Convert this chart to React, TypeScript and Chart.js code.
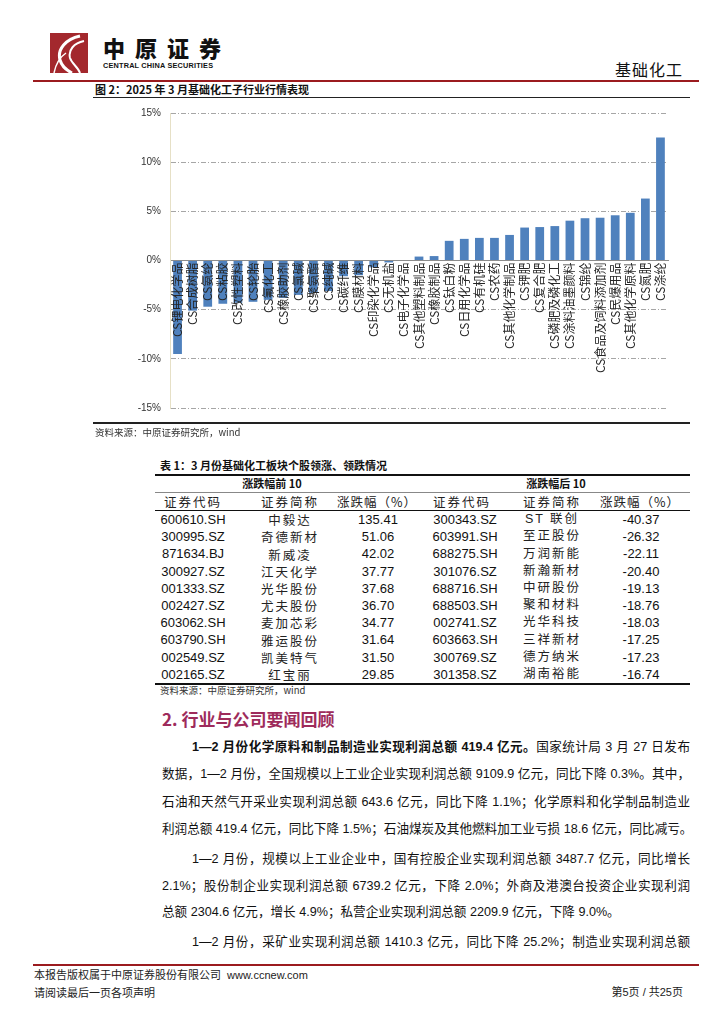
import React, { useEffect, useRef } from 'react';
import { Chart, registerables } from 'chart.js';

Chart.register(...registerables);

const categories = ['CS锂电化学品', 'CS合成树脂', 'CS氨纶', 'CS粘胶', 'CS改性塑料', 'CS轮胎', 'CS氟化工', 'CS橡胶助剂', 'CS氯碱', 'CS聚氨酯', 'CS纯碱', 'CS碳纤维', 'CS膜材料', 'CS印染化学品', 'CS无机盐', 'CS电子化学品', 'CS其他塑料制品', 'CS橡胶制品', 'CS钛白粉', 'CS日用化学品', 'CS有机硅', 'CS农药', 'CS其他化学制品', 'CS钾肥', 'CS复合肥', 'CS磷肥及磷化工', 'CS涂料油墨颜料', 'CS锦纶', 'CS食品及饲料添加剂', 'CS民爆用品', 'CS其他化学原料', 'CS氮肥', 'CS涤纶'];
const changes = [-9.5, -5.1, -4.7, -4.4, -4.3, -4.2, -4.0, -3.8, -3.5, -3.3, -3.1, -1.6, -1.5, -0.7, -0.2, -0.05, 0.4, 0.45, 2.0, 2.2, 2.3, 2.3, 2.6, 3.35, 3.4, 3.5, 4.05, 4.3, 4.35, 4.6, 4.85, 6.3, 12.5];
const yMin = -15;
const yMax = 15;
const yStep = 5;

const topCodes = ['600610.SH', '300995.SZ', '871634.BJ', '300927.SZ', '001333.SZ', '002427.SZ', '603062.SH', '603790.SH', '002549.SZ', '002165.SZ'];
const topNames = ['中毅达', '奇德新材', '新威凌', '江天化学', '光华股份', '尤夫股份', '麦加芯彩', '雅运股份', '凯美特气', '红宝丽'];
const topPct = ['135.41', '51.06', '42.02', '37.77', '37.68', '36.70', '34.77', '31.64', '31.50', '29.85'];
const botCodes = ['300343.SZ', '603991.SH', '688275.SH', '301076.SZ', '688716.SH', '688503.SH', '002741.SZ', '603663.SH', '300769.SZ', '301358.SZ'];
const botNames = ['ST 联创', '至正股份', '万润新能', '新瀚新材', '中研股份', '聚和材料', '光华科技', '三祥新材', '德方纳米', '湖南裕能'];
const botPct = ['-40.37', '-26.32', '-22.11', '-20.40', '-19.13', '-18.76', '-18.03', '-17.25', '-17.23', '-16.74'];

const CJK = '"Noto Sans CJK SC", "Noto Sans", sans-serif';
const MIX = '"Liberation Sans", Arial, "Noto Sans CJK SC", sans-serif';

type TP = { x: number; y: number; size: number; children?: React.ReactNode; bold?: boolean; color?: string; align?: 'left' | 'center' | 'right'; w?: number; family?: string; weight?: number; ls?: number };
const T = ({ x, y, size, children, bold, color = '#111', align = 'left', w = 300, family = MIX, weight, ls }: TP) => {
  const left = align === 'center' ? x - w / 2 : align === 'right' ? x - w : x;
  return (
    <div style={{ position: 'absolute', left, top: y - size * 0.62, width: w, textAlign: align, fontSize: size, lineHeight: `${size * 1.24}px`, whiteSpace: 'nowrap', fontWeight: weight ?? (bold ? 700 : 400), color, fontFamily: family, letterSpacing: ls }}>
      {children}
    </div>
  );
};

const HLine = ({ x1, x2, y, h = 1, color = '#000' }: { x1: number; x2: number; y: number; h?: number; color?: string }) => (
  <div style={{ position: 'absolute', left: x1, top: y, width: x2 - x1, height: h, background: color }} />
);

const PLine = ({ x, y, w, children, justify = true }: { x: number; y: number; w: number; children: React.ReactNode; justify?: boolean }) => (
  <div style={{ position: 'absolute', left: x, top: y - 8, width: w, fontSize: 12.6, lineHeight: '16px', whiteSpace: 'nowrap', textAlign: justify ? 'justify' : 'left', textAlignLast: justify ? 'justify' : 'left', fontFamily: MIX, color: '#111' }}>
    {children}
  </div>
);

function BarChart() {
  const ref = useRef<HTMLCanvasElement | null>(null);
  useEffect(() => {
    if (!ref.current) return;
    const chart = new Chart(ref.current, {
      type: 'bar',
      data: {
        labels: categories,
        datasets: [{ data: changes, backgroundColor: '#4F81BD', barPercentage: 0.58, categoryPercentage: 1.0 }],
      },
      options: {
        animation: false,
        responsive: false,
        maintainAspectRatio: false,
        plugins: { legend: { display: false }, tooltip: { enabled: false } },
        layout: { padding: { top: 14, right: 22, bottom: 13, left: 0 } },
        scales: {
          x: {
            position: { y: 0 } as any,
            grid: { display: false, drawTicks: false },
            border: { display: true, color: '#8C8C8C', width: 1 },
            ticks: {
              autoSkip: false,
              minRotation: 90,
              maxRotation: 90,
              padding: 2,
              color: '#262626',
              font: { size: 12, family: CJK },
              z: 1,
            } as any,
          },
          y: {
            min: yMin,
            max: yMax,
            afterFit: (s: any) => { s.width = 77; },
            ticks: { stepSize: yStep, callback: (v: any) => `${v}%`, padding: 9, color: '#333', font: { size: 10, family: '"Liberation Sans", Arial, sans-serif' } },
            grid: { color: '#A6A6A6', drawTicks: false, lineWidth: 1 },
            border: { color: '#E6E0C6', width: 1, dash: [5, 2, 1, 2] },
          },
        },
      },
    });
    return () => chart.destroy();
  }, []);
  return <canvas ref={ref} width={597} height={325} style={{ position: 'absolute', left: 93, top: 98, width: 597, height: 325 }} />;
}

export default function App() {
  const rowY = (i: number) => 520 + i * 17.2;
  return (
    <div style={{ position: 'absolute', left: 0, top: 0, width: 724, height: 1024, background: '#fff', overflow: 'hidden' }}>
      {/* Header */}
      <svg style={{ position: 'absolute', left: 50, top: 33 }} width={38} height={40} viewBox="0 0 38 40">
        <rect x={0} y={0} width={38} height={40} fill="#A3282D" />
        <path d="M30 3 C 16 6, 7 16, 10 27 C 12 34, 18 38, 22 40" stroke="#fff" strokeWidth={3} fill="none" />
        <path d="M34 8 C 24 10, 18 17, 20 25 C 22 31, 28 34, 30 40" stroke="#fff" strokeWidth={2} fill="none" />
        <path d="M4 40 C 6 30, 10 24, 16 20" stroke="#fff" strokeWidth={1.5} fill="none" />
      </svg>
      <T x={103} y={48} size={22} weight={900} family={CJK} ls={10} w={140}>中原证券</T>
      <T x={103} y={66} size={7.3} bold family={'"Liberation Sans", Arial, sans-serif'} w={140} ls={0.2}>CENTRAL CHINA SECURITIES</T>
      <T x={683} y={70} size={16} align="right" family={CJK} w={100} ls={1}>基础化工</T>
      <HLine x1={33} x2={699} y={80} h={2} color="#9B1B1F" />

      {/* Figure */}
      <T x={95} y={90} size={11} bold family={CJK} w={400}>图 2：2025 年 3 月基础化工子行业行情表现</T>
      <HLine x1={93} x2={690} y={96.5} h={1} color="#222" />
      <BarChart />
      <HLine x1={93} x2={690} y={422} h={2} color="#222" />
      <T x={95} y={433} size={9.5} family={CJK} color="#333" w={300}>资料来源：中原证券研究所，wind</T>

      {/* Table */}
      <T x={160} y={466} size={11} bold family={CJK} w={400}>表 1：3 月份基础化工板块个股领涨、领跌情况</T>
      <HLine x1={155} x2={690} y={474} h={2} color="#111" />
      <T x={272} y={484} size={11} bold family={CJK} align="center" w={160}>涨跌幅前 10</T>
      <T x={556} y={484} size={11} bold family={CJK} align="center" w={160}>涨跌幅后 10</T>
      <HLine x1={155} x2={690} y={492} h={1} color="#888" />
      <T x={193} y={502} size={12.5} family={CJK} align="center" w={100} color="#222" ls={2}>证券代码</T>
      <T x={290} y={502} size={12.5} family={CJK} align="center" w={100} color="#222" ls={2}>证券简称</T>
      <T x={377} y={502} size={12.5} family={CJK} align="center" w={100} color="#222" ls={1}>涨跌幅（%）</T>
      <T x={462} y={502} size={12.5} family={CJK} align="center" w={100} color="#222" ls={2}>证券代码</T>
      <T x={552} y={502} size={12.5} family={CJK} align="center" w={100} color="#222" ls={2}>证券简称</T>
      <T x={640} y={502} size={12.5} family={CJK} align="center" w={100} color="#222" ls={1}>涨跌幅（%）</T>
      <HLine x1={155} x2={690} y={510} h={1} color="#111" />
      {topCodes.map((c, i) => (
        <React.Fragment key={c}>
          <T x={193} y={rowY(i)} size={13} align="center" w={100}>{c}</T>
          <T x={290} y={rowY(i)} size={12.5} family={CJK} align="center" w={100} color="#222" ls={2}>{topNames[i]}</T>
          <T x={378} y={rowY(i)} size={13} align="center" w={100}>{topPct[i]}</T>
          <T x={465} y={rowY(i)} size={13} align="center" w={100}>{botCodes[i]}</T>
          <T x={552} y={rowY(i)} size={12.5} family={MIX} align="center" w={100} color="#222" ls={2}>{botNames[i]}</T>
          <T x={641} y={rowY(i)} size={13} align="center" w={100}>{botPct[i]}</T>
        </React.Fragment>
      ))}
      <HLine x1={155} x2={690} y={683} h={2} color="#111" />
      <T x={160} y={691} size={9.5} family={CJK} color="#333" w={300}>资料来源：中原证券研究所，wind</T>

      {/* Section */}
      <T x={162} y={719} size={17} bold family={CJK} color="#9E2B5B" w={400}>2. 行业与公司要闻回顾</T>

      <PLine x={192} y={747} w={498}><b>1—2 月份化学原料和制品制造业实现利润总额 419.4 亿元。</b>国家统计局 3 月 27 日发布</PLine>
      <PLine x={162} y={774} w={528}>数据，1—2 月份，全国规模以上工业企业实现利润总额 9109.9 亿元，同比下降 0.3%。其中，</PLine>
      <PLine x={162} y={802} w={528}>石油和天然气开采业实现利润总额 643.6 亿元，同比下降 1.1%；化学原料和化学制品制造业</PLine>
      <PLine x={162} y={829} w={528}>利润总额 419.4 亿元，同比下降 1.5%；石油煤炭及其他燃料加工业亏损 18.6 亿元，同比减亏。</PLine>
      <PLine x={192} y={859} w={498}>1—2 月份，规模以上工业企业中，国有控股企业实现利润总额 3487.7 亿元，同比增长</PLine>
      <PLine x={162} y={886} w={528}>2.1%；股份制企业实现利润总额 6739.2 亿元，下降 2.0%；外商及港澳台投资企业实现利润</PLine>
      <PLine x={162} y={912} w={528} justify={false}>总额 2304.6 亿元，增长 4.9%；私营企业实现利润总额 2209.9 亿元，下降 9.0%。</PLine>
      <PLine x={192} y={942} w={498}>1—2 月份，采矿业实现利润总额 1410.3 亿元，同比下降 25.2%；制造业实现利润总额</PLine>

      {/* Footer */}
      <HLine x1={33} x2={699} y={964} h={2} color="#9B1B1F" />
      <T x={34} y={976} size={11} w={400} color="#222">本报告版权属于中原证券股份有限公司&nbsp; www.ccnew.com</T>
      <T x={34} y={993} size={11} family={CJK} w={300} color="#222">请阅读最后一页各项声明</T>
      <T x={683} y={993} size={11} align="right" w={200} color="#222">第5页 / 共25页</T>
    </div>
  );
}
